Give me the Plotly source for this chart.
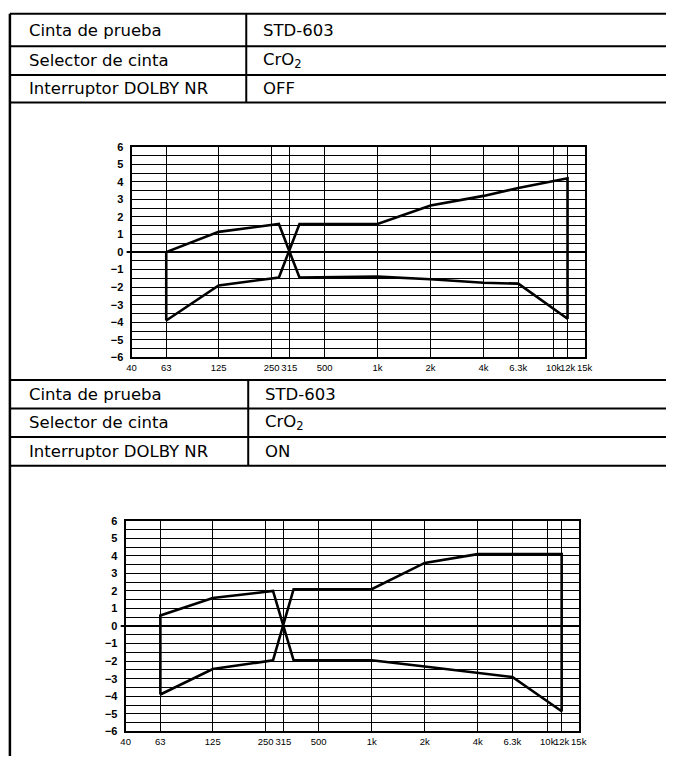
import numpy as np
import plotly.graph_objects as go

W, H = 674, 762

# -------- data --------
FREQ_TICKS = [40, 63, 125, 250, 315, 500, 1000, 2000, 4000, 6300, 10000, 12000, 15000]
FREQ_LABELS = ["40", "63", "125", "250", "315", "500", "1k", "2k", "4k", "6.3k", "10k", "12k", "15k"]
DB_TICKS = [6, 5, 4, 3, 2, 1, 0, -1, -2, -3, -4, -5, -6]

# tolerance window corners (Hz); the two limits swap around 315 Hz
FREQ_PTS = [63, 125, 275, 360, 1000, 2000, 4000, 6300, 12000]
UPPER_OFF = [0.0, 1.15, 1.6, 1.6, 1.6, 2.65, 3.2, 3.65, 4.2]
LOWER_OFF = [-3.9, -1.9, -1.45, -1.45, -1.4, -1.55, -1.75, -1.8, -3.8]
UPPER_ON = [0.6, 1.6, 2.0, 2.1, 2.1, 3.6, 4.1, 4.1, 4.1]
LOWER_ON = [-3.9, -2.45, -1.95, -1.95, -1.95, -2.3, -2.65, -2.9, -4.85]

ROW_LABELS = ["Cinta de prueba", "Selector de cinta", "Interruptor DOLBY NR"]
ROW_VALUES_OFF = ["STD-603", "CrO<sub>2</sub>", "OFF"]
ROW_VALUES_ON = ["STD-603", "CrO<sub>2</sub>", "ON"]

FONT = "Liberation Sans, Arial, Helvetica, sans-serif"
TABLE_FONT = "DejaVu Sans, Liberation Sans, sans-serif"


# page pixels (as in the scanned sheet) -> paper coords
def px(x):
    return x / W


def py(y):
    return 1 - y / H


def outline(f, up, lo, k=3):
    # one closed "bowtie": up the 63 Hz edge, upper limit, cross, lower limit,
    # up the 12 kHz edge, back along upper limit, cross, lower limit
    n = len(f)
    xs = [f[0]] + f[:k] + f[k:] + f[::-1][: n - k] + f[k - 1 :: -1]
    ys = [lo[0]] + up[:k] + lo[k:] + up[::-1][: n - k] + lo[k - 1 :: -1]
    return xs, ys


fig = go.Figure()

charts = [
    # (x0, x1, ytop, ybottom) in page pixels
    (129, 591, 143, 357, UPPER_OFF, LOWER_OFF, ""),
    (123, 585, 523, 737, UPPER_ON, LOWER_ON, "2"),
]

shapes = []
for x0, x1, yt, yb, up, lo, sfx in charts:
    xs, ys = outline(FREQ_PTS, up, lo)
    fig.add_trace(
        go.Scatter(
            x=xs,
            y=ys,
            mode="lines",
            line=dict(color="black", width=2.6),
            xaxis="x" + sfx,
            yaxis="y" + sfx,
            hoverinfo="skip",
            showlegend=False,
        )
    )
    fig.layout["xaxis" + sfx] = dict(
        type="log",
        domain=[px(x0), px(x1)],
        range=[np.log10(40), np.log10(15000)],
        tickvals=FREQ_TICKS,
        ticktext=FREQ_LABELS,
        tickangle=0,
        tickfont=dict(family=FONT, size=9.5, color="black"),
        showgrid=True,
        gridcolor="black",
        gridwidth=1.4,
        showline=True,
        linecolor="black",
        linewidth=1.6,
        mirror=True,
        zeroline=False,
        ticks="",
        anchor="y" + sfx,
        fixedrange=True,
    )
    fig.layout["yaxis" + sfx] = dict(
        domain=[py(yb), py(yt)],
        range=[-6, 6],
        tickvals=DB_TICKS,
        tickfont=dict(family=FONT, size=11, color="black", weight=700),
        showgrid=True,
        gridcolor="black",
        gridwidth=1.1,
        minor=dict(dtick=0.5, tick0=0, showgrid=True, gridcolor="black", gridwidth=1.1, ticks=""),
        showline=True,
        linecolor="black",
        linewidth=2,
        mirror=True,
        zeroline=True,
        zerolinecolor="black",
        zerolinewidth=2,
        ticks="",
        ticklabelstandoff=4,
        anchor="x" + sfx,
        fixedrange=True,
    )
    # little stub of the 0 dB line left of the frame
    shapes.append(
        dict(type="line", xref="paper", yref="y" + sfx, x0=px(x0 - 5), x1=px(x0), y0=0, y1=0,
             line=dict(color="black", width=2))
    )

# -------- tables --------
LW = 2


def hline(y, x0=5, x1=674):
    shapes.append(dict(type="line", xref="paper", yref="paper", x0=px(x0), x1=px(x1),
                       y0=py(y), y1=py(y), line=dict(color="black", width=LW)))


def vline(x, y0, y1, w=LW):
    shapes.append(dict(type="line", xref="paper", yref="paper", x0=px(x), x1=px(x),
                       y0=py(y0), y1=py(y1), line=dict(color="black", width=w)))


annotations = []
tables = [
    ([8, 41, 70, 98], 246, ROW_VALUES_OFF, 261),
    ([380, 409, 438, 467], 248, ROW_VALUES_ON, 263),
]
for rows, xdiv, values, xval in tables:
    for y in rows:
        hline(y)
    vline(xdiv, rows[0], rows[-1])
    for i, (lab, val) in enumerate(zip(ROW_LABELS, values)):
        yc = (rows[i] + rows[i + 1]) / 2
        for xt, txt in ((22, lab), (xval, val)):
            annotations.append(dict(x=px(xt), y=py(yc), xref="paper", yref="paper", text=txt,
                                    showarrow=False, xanchor="left", yanchor="middle",
                                    font=dict(family=TABLE_FONT, size=16.5, color="black")))

# outer left border
vline(5, 8, 762, w=2.5)

fig.update_layout(
    width=W,
    height=H,
    margin=dict(l=0, r=0, t=0, b=0),
    paper_bgcolor="white",
    plot_bgcolor="white",
    shapes=shapes,
    annotations=annotations,
    showlegend=False,
)

# drop the browser's default body margin so the sheet fills the window exactly
fig.write_html(
    "out.html",
    config={"displayModeBar": False},
    post_script="document.body.style.margin='0';document.body.style.overflow='hidden';",
)
